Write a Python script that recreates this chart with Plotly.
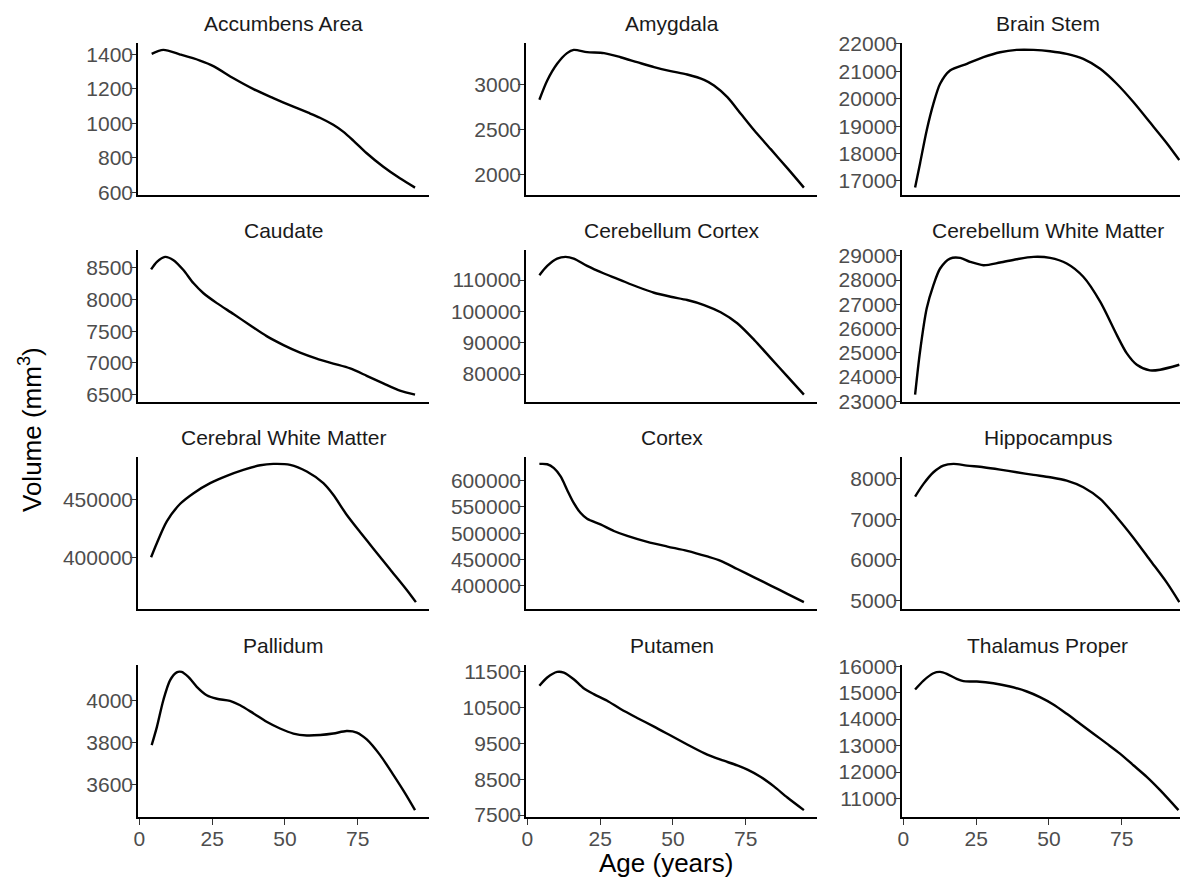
import plotly.graph_objects as go

# ---------------- data ----------------
regions = ["Accumbens Area", "Amygdala", "Brain Stem",
           "Caudate", "Cerebellum Cortex", "Cerebellum White Matter",
           "Cerebral White Matter", "Cortex", "Hippocampus",
           "Pallidum", "Putamen", "Thalamus Proper"]

accumbens_age = [4.2, 8.2, 14, 20.8, 25.4, 32.3, 39.2, 46, 52.9, 58, 62, 66.6, 70, 73.5, 78, 83.8, 89.5, 94.7]
accumbens_vol = [1404, 1427, 1400, 1365, 1333, 1262, 1199, 1147, 1097, 1062, 1033, 992, 952, 900, 828, 748, 681, 627]

amygdala_age = [4.1, 6.8, 10.2, 13.6, 15.9, 20.5, 26.3, 32, 37.7, 43.5, 49.2, 54.9, 60.7, 64.1, 68.7, 73.3, 77.9, 83.6, 89.3, 95]
amygdala_vol = [2831, 3044, 3228, 3346, 3382, 3357, 3346, 3301, 3246, 3191, 3147, 3110, 3051, 2989, 2860, 2676, 2493, 2285, 2075, 1860]

brainstem_age = [4, 5.7, 8, 10.3, 12.6, 16, 21.8, 27.5, 33.2, 38.9, 44.7, 50.4, 56.1, 61.8, 67.6, 73.3, 79, 84.7, 90.5, 94.8]
brainstem_vol = [16758, 17641, 18852, 19821, 20547, 21031, 21274, 21516, 21697, 21782, 21782, 21734, 21637, 21455, 21092, 20547, 19881, 19140, 18380, 17762]

caudate_age = [4, 6, 8.8, 11.7, 15.1, 18.6, 22, 26.6, 32.3, 38, 43.7, 49.5, 55.2, 60.9, 66.6, 72.4, 78.1, 83.8, 89.5, 94.7]
caudate_vol = [8474, 8594, 8672, 8620, 8464, 8255, 8099, 7943, 7771, 7594, 7422, 7281, 7162, 7068, 6990, 6912, 6797, 6677, 6563, 6500]

cblm_cortex_age = [4.1, 6.8, 10.2, 13.1, 15.9, 20.5, 26.3, 32, 37.7, 43.5, 49.2, 54.9, 60.7, 66.4, 72.1, 77.9, 83.6, 89.3, 95]
cblm_cortex_vol = [111590, 114558, 116890, 117420, 116890, 114558, 112120, 110000, 107880, 105972, 104700, 103640, 102050, 99718, 96220, 90920, 85090, 79260, 73430]

cblm_wm_age = [4, 5.7, 8, 10.3, 12.6, 16, 19.5, 22.9, 27.5, 33.2, 38.9, 44.7, 50.4, 56.1, 61.8, 67.6, 73.3, 76.7, 80.2, 84.7, 88.2, 94.8]
cblm_wm_vol = [23273, 25054, 26835, 27794, 28479, 28890, 28918, 28753, 28616, 28726, 28863, 28959, 28918, 28685, 28137, 27109, 25739, 24986, 24506, 24273, 24301, 24506]

cerebral_wm_age = [4, 6, 9.4, 14, 18.6, 24.3, 30, 35.7, 41.5, 46, 51.8, 57.5, 63.2, 66.6, 71.2, 75.8, 80.4, 86.1, 91.8, 95]
cerebral_wm_vol = [400000, 412430, 431215, 446532, 455780, 464450, 470808, 476010, 480056, 481212, 480345, 474565, 464450, 454335, 436995, 422000, 407500, 389600, 371800, 360988]

cortex_age = [4.1, 6.8, 9.1, 11.4, 13.6, 15.9, 18.2, 20.5, 25.1, 29.7, 34.3, 41.2, 48.1, 54.9, 61.8, 66.4, 72.1, 77.9, 83.6, 89.3, 95]
cortex_vol = [632176, 631545, 623974, 608201, 582966, 557730, 538803, 527447, 516722, 504105, 494640, 483284, 474452, 466250, 455525, 447323, 431550, 415777, 400000, 384230, 368458]

hippocampus_age = [4, 6.9, 10.3, 13.7, 17.2, 21.8, 27.5, 33.2, 38.9, 44.7, 50.4, 56.1, 61.8, 67.6, 73.3, 79, 84.7, 90.5, 94.8]
hippocampus_vol = [7564, 7877, 8164, 8329, 8370, 8329, 8288, 8230, 8164, 8099, 8041, 7959, 7795, 7507, 7055, 6550, 6000, 5440, 4959]

pallidum_age = [4.2, 6, 8.2, 10.5, 12.8, 14.5, 16.8, 19.7, 23.1, 26.6, 31.1, 34.6, 39.2, 43.7, 48.3, 52.9, 57.5, 62.1, 66.6, 71.2, 74.7, 78.1, 82.7, 87.3, 91.3, 94.7]
pallidum_vol = [3789, 3876, 4003, 4098, 4136, 4138, 4114, 4067, 4027, 4010, 4000, 3979, 3940, 3900, 3868, 3844, 3835, 3837, 3844, 3856, 3849, 3816, 3741, 3646, 3559, 3479]

putamen_age = [4.1, 6.8, 10.2, 12.5, 15.9, 19.3, 22.8, 27.4, 32, 37.7, 43.5, 49.2, 54.9, 60.7, 66.4, 72.1, 75.6, 80.2, 84.7, 89.3, 95]
putamen_vol = [11103, 11334, 11491, 11472, 11288, 11038, 10872, 10687, 10456, 10207, 9966, 9717, 9468, 9227, 9043, 8886, 8766, 8562, 8300, 7990, 7639]

thalamus_age = [4, 6.9, 10.3, 12.6, 14.9, 18.3, 20.6, 25.2, 30.9, 36.6, 42.4, 46.9, 51.5, 56.1, 60.7, 65.3, 69.9, 74.4, 79, 83.6, 88.2, 94.5]
thalamus_vol = [15121, 15460, 15736, 15786, 15711, 15523, 15435, 15422, 15359, 15234, 15045, 14832, 14555, 14203, 13827, 13450, 13073, 12696, 12256, 11817, 11314, 10560]

y_ticks = [
    [600, 800, 1000, 1200, 1400],
    [2000, 2500, 3000],
    [17000, 18000, 19000, 20000, 21000, 22000],
    [6500, 7000, 7500, 8000, 8500],
    [80000, 90000, 100000, 110000],
    [23000, 24000, 25000, 26000, 27000, 28000, 29000],
    [400000, 450000],
    [400000, 450000, 500000, 550000, 600000],
    [5000, 6000, 7000, 8000],
    [3600, 3800, 4000],
    [7500, 8500, 9500, 10500, 11500],
    [11000, 12000, 13000, 14000, 15000, 16000],
]
x_ticks = [0, 25, 50, 75]

series = [
    (accumbens_age, accumbens_vol), (amygdala_age, amygdala_vol), (brainstem_age, brainstem_vol),
    (caudate_age, caudate_vol), (cblm_cortex_age, cblm_cortex_vol), (cblm_wm_age, cblm_wm_vol),
    (cerebral_wm_age, cerebral_wm_vol), (cortex_age, cortex_vol), (hippocampus_age, hippocampus_vol),
    (pallidum_age, pallidum_vol), (putamen_age, putamen_vol), (thalamus_age, thalamus_vol),
]

# ---------------- layout geometry ----------------
# The page body has an 8px margin, so the figure is drawn 8px smaller and all
# target window positions are shifted by OFF.
OFF = 8
VW, VH = 1188, 886
W, H = VW - OFF, VH - OFF
col_px = [(138, 429), (526, 817), (902, 1188)]       # window pixels
row_px = [(43, 194.5), (250, 401.5), (457, 609), (665, 817)]
px_per_year = 291.0 / 100.0
x_lo = -0.5


def px_x(p):
    return (p - OFF) / W


def px_y(p):
    return 1 - (p - OFF) / H


FONT = "Liberation Sans, Arial, sans-serif"
TICK_FONT = dict(family=FONT, size=21, color="#4D4D4D")

fig = go.Figure()
annotations = []
layout = {}

for i, name in enumerate(regions):
    r, c = divmod(i, 3)
    ages, vols = series[i]
    k = "" if i == 0 else str(i + 1)
    fig.add_trace(go.Scatter(
        x=ages, y=vols, mode="lines",
        line=dict(color="black", width=2.4, shape="spline", smoothing=0.8),
        xaxis="x" + k, yaxis="y" + k, showlegend=False, hoverinfo="skip"))

    x0, x1 = col_px[c]
    top, bot = row_px[r]
    x_hi = x_lo + (x1 - x0) / px_per_year
    vmin, vmax = min(vols), max(vols)
    pad = 0.05 * (vmax - vmin)

    bottom_row = (r == 3)
    layout["xaxis" + k] = dict(
        domain=[px_x(x0), min(1.0, px_x(x1))], anchor="y" + k, range=[x_lo, x_hi],
        automargin=False,
        showline=True, linecolor="black", linewidth=1.6, showgrid=False, zeroline=False,
        tickmode="array", tickvals=x_ticks if bottom_row else [],
        ticks="outside" if bottom_row else "", ticklen=6, tickwidth=1.3, tickcolor="#333333",
        showticklabels=bottom_row, tickfont=TICK_FONT, ticklabelstandoff=-4,
    )
    layout["yaxis" + k] = dict(
        domain=[px_y(bot), px_y(top)], anchor="x" + k, range=[vmin - pad, vmax + pad],
        automargin=False,
        showline=True, linecolor="black", linewidth=1.6, showgrid=False, zeroline=False,
        tickmode="array", tickvals=y_ticks[i], ticktext=[str(v) for v in y_ticks[i]],
        ticks="outside", ticklen=6, tickwidth=1.3, tickcolor="#333333",
        tickfont=TICK_FONT, ticklabelstandoff=-7,
    )
    # facet strip title, centred over the full panel width
    centre = x0 + 291 / 2
    annotations.append(dict(
        text=name, x=px_x(centre), y=px_y(top - 20), xref="paper", yref="paper",
        xanchor="center", yanchor="middle", showarrow=False,
        font=dict(family=FONT, size=21, color="#1A1A1A")))

annotations.append(dict(
    text="Age (years)", x=px_x(665.5), y=px_y(863), xref="paper", yref="paper",
    xanchor="center", yanchor="middle", showarrow=False,
    font=dict(family=FONT, size=26, color="black")))
annotations.append(dict(
    text="Volume (mm<sup>3</sup>)", x=px_x(30), y=px_y(430), xref="paper", yref="paper",
    xanchor="center", yanchor="middle", textangle=-90, showarrow=False,
    font=dict(family=FONT, size=26, color="black")))

fig.update_layout(
    width=W, height=H,
    margin=dict(l=0, r=0, t=0, b=0, autoexpand=False),
    paper_bgcolor="white", plot_bgcolor="white",
    annotations=annotations,
    **layout,
)

fig.write_html("out.html")
